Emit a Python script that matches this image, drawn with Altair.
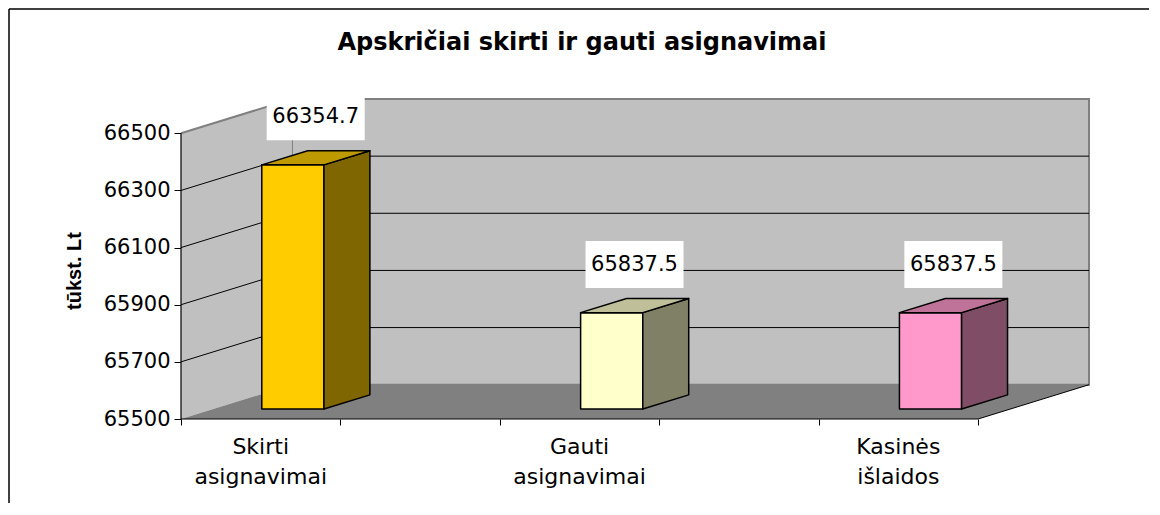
import altair as alt
import pandas as pd

# ---------------- data ----------------
title_text = "Apskričiai skirti ir gauti asignavimai"
y_title = "tūkst. Lt"
categories = ["Skirti\nasignavimai", "Gauti\nasignavimai", "Kasinės\nišlaidos"]
values = [66354.7, 65837.5, 65837.5]
y_ticks = [65500, 65700, 65900, 66100, 66300, 66500]
x_ticks = [0, 1, 2, 3, 4, 5]
cat_pos = [0.5, 2.5, 4.5]

front_colors = ["#FFCC00", "#FFFFCC", "#FF99CC"]
top_colors = ["#BF9900", "#BFBF99", "#BF7399"]
side_colors = ["#806600", "#808066", "#804D66"]

# ---------------- 3D projection parameters ----------------
BASE, TOP = y_ticks[0], y_ticks[-1]
X_END = x_ticks[-1]
DX = 0.696   # depth shift in x units
DY = 120.0   # depth shift in value units
HW = 0.195   # half bar width
DF, DB = 0.29, 0.704  # bar front / back depth

def P(x, v, d):
    return x + d * DX, v + d * DY

# bar faces as vertical areas (x, y, y2)
face_rows = []
for i, (c, v) in enumerate(zip(cat_pos, values)):
    for xx in (c - HW, c + HW):
        x0, yb = P(xx, BASE, DF)
        _, yt = P(xx, v, DF)
        face_rows.append(dict(key=f"{i}a", x=x0, y=yb, y2=yt, fill=front_colors[i]))
    for d in (DF, DB):
        x0, yb = P(c + HW, BASE, d)
        _, yt = P(c + HW, v, d)
        face_rows.append(dict(key=f"{i}b", x=x0, y=yb, y2=yt, fill=side_colors[i]))
    xf_l, yf = P(c - HW, v, DF)
    xb_l, yb_ = P(c - HW, v, DB)
    xf_r, _ = P(c + HW, v, DF)
    xb_r, _ = P(c + HW, v, DB)
    face_rows += [
        dict(key=f"{i}c", x=xf_l, y=yf, y2=yf, fill=top_colors[i]),
        dict(key=f"{i}c", x=xb_l, y=yf, y2=yb_, fill=top_colors[i]),
        dict(key=f"{i}c", x=xf_r, y=yf, y2=yb_, fill=top_colors[i]),
        dict(key=f"{i}c", x=xb_r, y=yb_, y2=yb_, fill=top_colors[i]),
    ]
faces = pd.DataFrame(face_rows)

back_wall = pd.DataFrame(dict(x=[DX, X_END + DX], y=[BASE + DY] * 2, y2=[TOP + DY] * 2))
left_wall = pd.DataFrame(dict(x=[0, DX], y=[BASE, BASE + DY], y2=[TOP, TOP + DY]))
left_top = pd.DataFrame(dict(x=[0, DX], y=[TOP, TOP + DY]))
floor = pd.DataFrame(dict(
    x=[0, DX, X_END, X_END + DX],
    y=[BASE, BASE, BASE, BASE + DY],
    y2=[BASE, BASE + DY, BASE + DY, BASE + DY],
))
grid_rows = []
for v in y_ticks[1:-1]:
    for k, (xx, d) in enumerate([(0, 0), (0, 1), (X_END, 1)]):
        gx, gy = P(xx, v, d)
        grid_rows.append(dict(g=v, o=k, x=gx, y=gy))
grid = pd.DataFrame(grid_rows)
edge = pd.DataFrame(dict(x=[X_END, X_END + DX], y=[BASE, BASE + DY]))

bars = pd.DataFrame(dict(cat=categories, pos=cat_pos, value=values,
                         label=[f"{v:.1f}" for v in values]))

xs = alt.Scale(domain=[0, X_END + DX], nice=False, zero=False)
ys = alt.Scale(domain=[BASE, TOP + DY], nice=False, zero=False)
x_axis = alt.Axis(values=x_ticks, labels=False, domain=False, grid=False, ticks=True,
                  tickColor="black", tickSize=6, tickWidth=1, title=None)
y_axis = alt.Axis(values=y_ticks, format="d", domain=False, grid=False, ticks=True, tickColor="black",
                  tickSize=7, tickWidth=1, labelPadding=4, labelFont="DejaVu Sans",
                  labelFontSize=21, labelColor="black", title=None)
X = lambda f="x": alt.X(f"{f}:Q", scale=xs, axis=x_axis)
Y = lambda f="y": alt.Y(f"{f}:Q", scale=ys, axis=y_axis)

back_l = alt.Chart(back_wall).mark_area(fill="#C0C0C0", stroke="#808080", strokeWidth=2).encode(
    x=X(), y=Y(), y2="y2:Q")
left_l = alt.Chart(left_wall).mark_area(fill="#C0C0C0").encode(
    x=X(), y=Y(), y2="y2:Q")
left_top_l = alt.Chart(left_top).mark_line(color="#808080", strokeWidth=2).encode(x=X(), y=Y())
floor_l = alt.Chart(floor).mark_area(fill="#808080").encode(x=X(), y=Y(), y2="y2:Q")
grid_l = alt.Chart(grid).mark_line(color="black", strokeWidth=1).encode(
    x=X(), y=Y(), detail="g:N", order="o:Q")
edge_l = alt.Chart(edge).mark_line(color="black", strokeWidth=1).encode(x=X(), y=Y())

yaxis_line = alt.Chart(pd.DataFrame(dict(x=[0], y=[BASE], y2=[TOP]))).mark_rule(
    color="black", strokeWidth=1.2).encode(x=X(), y=Y(), y2="y2:Q")
xaxis_line = alt.Chart(pd.DataFrame(dict(x=[0], x2=[X_END], y=[BASE]))).mark_rule(
    color="black", strokeWidth=1.2).encode(x=X(), x2="x2:Q", y=Y())

faces_l = alt.Chart(faces).mark_area(stroke="black", strokeWidth=1.5, strokeJoin="round").encode(
    x=X(), y=Y(), y2="y2:Q", detail="key:N",
    fill=alt.Fill("fill:N", scale=None),
)

box_path = "M-1,-0.48L1,-0.48L1,0.48L-1,0.48Z"
label_box = alt.Chart(bars).mark_point(shape=box_path, size=9604, filled=True, fill="white",
                                       opacity=1, strokeWidth=0, xOffset=55, yOffset=-58).encode(
    x=X("pos"), y=Y("value"))
label_text = alt.Chart(bars).mark_text(font="DejaVu Sans", fontSize=21, color="black",
                                       align="center", baseline="middle", xOffset=55, yOffset=-58).encode(
    x=X("pos"), y=Y("value"), text="label:N")

cat_text = alt.Chart(bars).mark_text(font="DejaVu Sans", fontSize=22, color="black", align="center",
                                     baseline="alphabetic", lineBreak="\n", lineHeight=30, yOffset=35).encode(
    x=X("pos"), y=alt.value(320), text="cat:N")

title_l = alt.Chart(pd.DataFrame(dict(t=[title_text]))).mark_text(
    font="DejaVu Sans", fontSize=24, fontWeight="bold", color="black", align="center",
    baseline="alphabetic").encode(x=alt.value(401), y=alt.value(-49), text="t:N")
ytitle_l = alt.Chart(pd.DataFrame(dict(t=[y_title]))).mark_text(
    font="Liberation Sans", fontSize=20, fontWeight="bold", color="black", align="center",
    baseline="middle", angle=270).encode(x=alt.value(-106), y=alt.value(172), text="t:N")

frame = alt.Chart(pd.DataFrame(dict(a=[0]))).mark_rule(color="black", strokeWidth=1.5).encode(
    x=alt.value(-172), x2=alt.value(1100), y=alt.value(-90))
frame2 = alt.Chart(pd.DataFrame(dict(a=[0]))).mark_rule(color="black", strokeWidth=1.5).encode(
    x=alt.value(-172), y=alt.value(-90), y2=alt.value(420))

chart = alt.layer(
    back_l, left_l, left_top_l, floor_l, grid_l, edge_l, faces_l,
    yaxis_line, xaxis_line, label_box, label_text, cat_text, title_l, ytitle_l, frame, frame2,
).properties(
    width=908, height=320,
    background="white",
    autosize=alt.AutoSizeParams(type="none"),
    padding={"left": 173, "top": 91, "right": 60, "bottom": 84},
).configure_view(stroke="transparent", strokeWidth=0)

chart.save("out.html", embed_options={"renderer": "svg", "actions": False})
